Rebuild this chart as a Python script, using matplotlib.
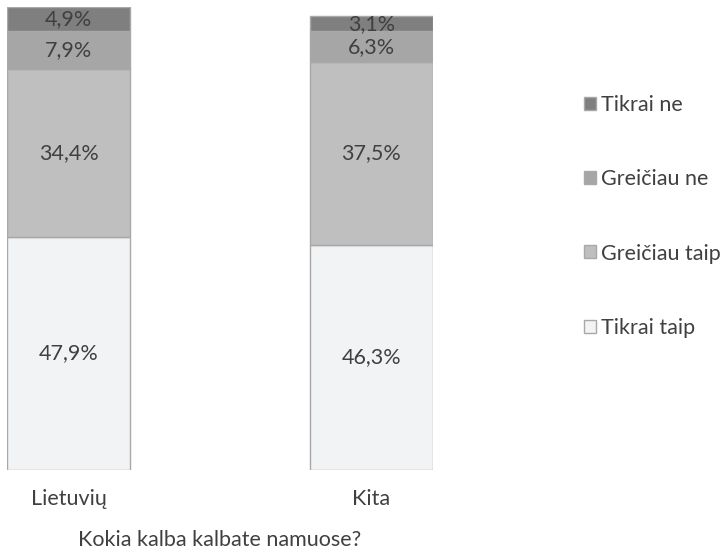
import matplotlib
matplotlib.use("Agg")
import matplotlib.pyplot as plt
import numpy as np

categories = ["Lietuvių", "Kita"]
series_names = ["Tikrai taip", "Greičiau taip", "Greičiau ne", "Tikrai ne"]
tikrai_taip = [47.9, 46.3]
greiciau_taip = [34.4, 37.5]
greiciau_ne = [7.9, 6.3]
tikrai_ne = [4.9, 3.1]
xlabel = "Kokia kalba kalbate namuose?"

series = [tikrai_taip, greiciau_taip, greiciau_ne, tikrai_ne]
colors = ["#f2f3f5", "#bfbfbf", "#a6a6a6", "#7f7f7f"]

plt.rcParams['font.family'] = ['Lato', 'DejaVu Sans']
txt = "#404040"
fs = 15.5

W, H = 723, 552
fig = plt.figure(figsize=(W / 100, H / 100), dpi=100)
left_px, right_px, top_px, bot_px = 7, 433, 7, 470
ax = fig.add_axes([left_px / W, 1 - bot_px / H, (right_px - left_px) / W, (bot_px - top_px) / H])

x = np.arange(len(categories))
width = 0.405
bottom = np.zeros(len(categories))
handles = []
for name, vals, c in zip(series_names, series, colors):
    vals = np.array(vals)
    b = ax.bar(x, vals, width, bottom=bottom, color=c, edgecolor="#a8a8a8", linewidth=1, label=name)
    handles.append(b)
    for xi, v, bt in zip(x, vals, bottom):
        ax.text(xi, bt + v / 2, f"{v:.1f}%".replace(".", ","), ha="center", va="center",
                fontsize=fs, color=txt)
    bottom += vals

ax.set_xlim(-width / 2 - 0.001, 1 + width / 2 + 0.001)
ax.set_ylim(0, max(bottom))
for s in ax.spines.values():
    s.set_visible(False)
ax.set_yticks([])
ax.set_xticks(x)
ax.set_xticklabels(categories, fontsize=fs, color=txt)
ax.tick_params(axis="x", length=0, pad=14)
ax.set_xlabel(xlabel, fontsize=fs, color=txt, labelpad=15)

leg = fig.legend(handles[::-1], series_names[::-1], loc="upper left",
                 bbox_to_anchor=(584 / W, 1 - 95 / H), frameon=False, fontsize=fs,
                 labelcolor=txt, labelspacing=2.52, handlelength=0.55, handleheight=0.55,
                 handletextpad=0.25, borderpad=0, borderaxespad=0)

fig.savefig("out.png", dpi=100)
